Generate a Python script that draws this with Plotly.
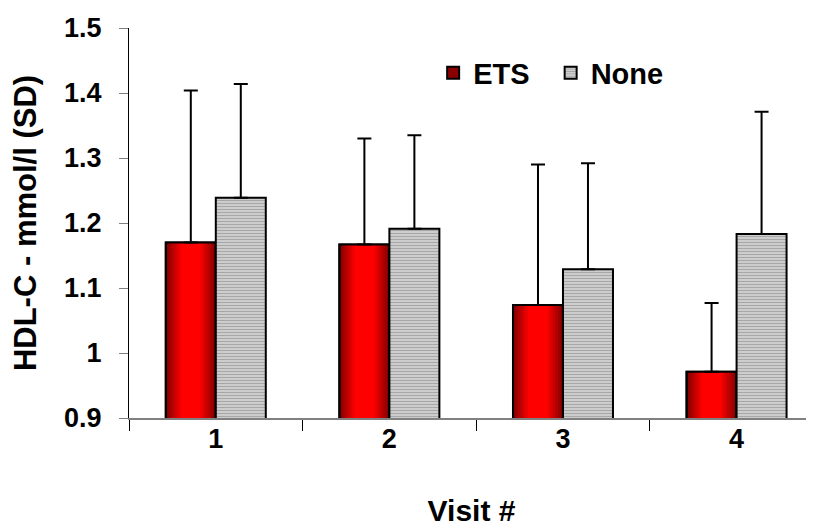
import plotly.graph_objects as go

# ---- data ----
visits = ["1", "2", "3", "4"]
ets_mean = [1.170, 1.167, 1.074, 0.971]
ets_sd = [0.234, 0.163, 0.216, 0.106]
none_mean = [1.239, 1.191, 1.129, 1.183]
none_sd = [0.175, 0.144, 0.163, 0.188]
y_ticks = [0.9, 1.0, 1.1, 1.2, 1.3, 1.4, 1.5]
y_tick_text = ["0.9", "1", "1.1", "1.2", "1.3", "1.4", "1.5"]

FONT = "Arial, Liberation Sans, sans-serif"
BW = 0.288  # bar width in category units

fig = go.Figure()

# ETS base bar (dark red edge colour), carries legend entry
fig.add_trace(go.Bar(
    x=visits, y=ets_mean, name="ETS&nbsp;&nbsp;", width=BW, offset=-BW,
    marker=dict(color="#8a0000", line=dict(color="black", width=2)),
    hoverinfo="skip", legendrank=1,
))

# inner layers to mimic horizontal gradient (dark edges -> bright centre)
n_layers = 9
for k in range(1, n_layers + 1):
    frac = k / (n_layers + 1)
    w = BW * (1 - frac)
    r = int(0x8a + (0xff - 0x8a) * min(1, frac * 1.7))
    col = f"rgb({r},0,0)"
    fig.add_trace(go.Bar(
        x=visits, y=ets_mean, width=w, offset=-BW + (BW - w) / 2,
        marker=dict(color=col, line=dict(width=0)),
        showlegend=False, hoverinfo="skip",
    ))

# outline + error bars on top
fig.add_trace(go.Bar(
    x=visits, y=ets_mean, width=BW, offset=-BW,
    marker=dict(color="rgba(0,0,0,0)", line=dict(color="black", width=2)),
    error_y=dict(type="data", array=ets_sd, symmetric=False,
                 arrayminus=[0] * len(ets_sd), color="black",
                 thickness=2, width=7),
    showlegend=False, name="ETS",
))

# None bars: gray horizontal stripes
fig.add_trace(go.Bar(
    x=visits, y=none_mean, name="None", width=BW, offset=0,
    marker=dict(color="#d4d4d4", line=dict(color="black", width=2),
                pattern=dict(shape="-", fgcolor="#7a7a7a", bgcolor="#d4d4d4",
                             size=3, solidity=0.45, fillmode="overlay")),
    error_y=dict(type="data", array=none_sd, symmetric=False,
                 arrayminus=[0] * len(none_sd), color="black",
                 thickness=2, width=7),
    legendrank=2,
))

fig.update_layout(
    width=806, height=519,
    margin=dict(l=121, r=0, t=20, b=109),
    paper_bgcolor="white", plot_bgcolor="white",
    barmode="overlay",
    font=dict(family=FONT, color="black", size=26, weight="bold"),
    showlegend=True,
    legend=dict(orientation="h", x=0.444, y=0.885, xanchor="left",
                yanchor="middle", bgcolor="rgba(0,0,0,0)",
                font=dict(family=FONT, size=29, weight="bold"),
                itemwidth=30, traceorder="normal"),
    xaxis=dict(
        type="category", range=[-0.5, 3.446], automargin=False,
        showline=True, linecolor="#808080", linewidth=2,
        ticks="outside", tickson="boundaries", ticklen=11,
        tickcolor="black", tickwidth=1,
        ticklabelstandoff=-4,
        showgrid=False, zeroline=False,
        tickfont=dict(family=FONT, size=27, weight="bold"),
        title=dict(text="Visit #", standoff=51,
                   font=dict(family=FONT, size=30, weight="bold")),
    ),
    yaxis=dict(
        range=[0.9, 1.5], tickvals=y_ticks, ticktext=y_tick_text,
        automargin=False,
        showline=True, linecolor="black", linewidth=1,
        ticks="outside", ticklen=9, tickcolor="#808080", tickwidth=1,
        ticklabelstandoff=12,
        showgrid=False, zeroline=False,
        tickfont=dict(family=FONT, size=27, weight="bold"),
        title=dict(text="HDL-C - mmol/l (SD)", standoff=19,
                   font=dict(family=FONT, size=31, weight="bold")),
    ),
)

fig.write_html("out.html")
